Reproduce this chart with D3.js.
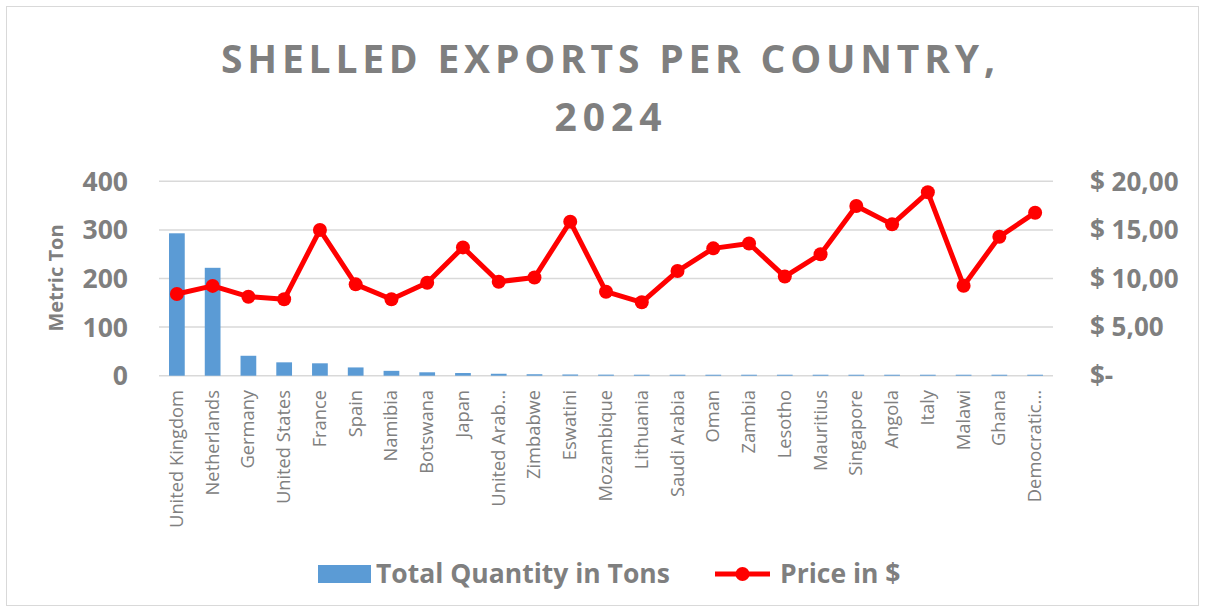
<!DOCTYPE html>
<html lang="en">
<head>
  <meta charset="UTF-8">
  <title>Shelled exports per country, 2024</title>
  <script src="https://cdn.jsdelivr.net/npm/d3@7.9.0/dist/d3.min.js"></script>
  <style>
    html, body {
      margin: 0;
      padding: 0;
      background: #fff;
    }
    svg text {
      font-family: "Open Sans", Lato, sans-serif;
    }
  </style>
</head>
<body>
  <svg id="chart" width="1205" height="611"></svg>

  <script>
    // --- Data ---
    const countries = [
      "United Kingdom", "Netherlands", "Germany", "United States", "France",
      "Spain", "Namibia", "Botswana", "Japan", "United Arab...",
      "Zimbabwe", "Eswatini", "Mozambique", "Lithuania", "Saudi Arabia",
      "Oman", "Zambia", "Lesotho", "Mauritius", "Singapore",
      "Angola", "Italy", "Malawi", "Ghana", "Democratic..."
    ];
    const quantityTons = [
      293, 222, 41, 27.5, 25.5, 17, 10, 7, 5.5, 4,
      3, 2.5, 2.2, 2, 2, 2, 2, 2, 2, 2,
      2, 2, 2, 2, 2
    ];
    const priceUsd = [
      8.4, 9.24, 8.13, 7.86, 15.0, 9.4, 7.86, 9.57, 13.2, 9.67,
      10.1, 15.85, 8.64, 7.55, 10.77, 13.1, 13.6, 10.2, 12.5, 17.46,
      15.57, 18.87, 9.26, 14.3, 16.77
    ];
    const leftTicks = [0, 100, 200, 300, 400];
    const rightTicks = [0, 5, 10, 15, 20];
    const titleLines = ["SHELLED EXPORTS PER COUNTRY,", "2024"];

    const grey = "#7f7f7f";
    const gridColor = "#d9d9d9";
    const barColor = "#5b9bd5";
    const lineColor = "#ff0000";

    const svg = d3.select("#chart");

    // outer chart border
    svg.append("rect")
      .attr("x", 6.5).attr("y", 6.5)
      .attr("width", 1192).attr("height", 599)
      .attr("fill", "none")
      .attr("stroke", gridColor)
      .attr("stroke-width", 1);

    // --- Scales ---
    const plot = { left: 159, right: 1053, top: 181.3, bottom: 375.7 };

    const x = d3.scaleBand()
      .domain(countries)
      .range([plot.left, plot.right])
      .padding(0);

    const yLeft = d3.scaleLinear().domain([0, 400]).range([plot.bottom, plot.top]);
    const yRight = d3.scaleLinear().domain([0, 20]).range([plot.bottom, plot.top]);

    // --- Gridlines (incl. the zero line) ---
    svg.append("g")
      .selectAll("line")
      .data(leftTicks)
      .join("line")
      .attr("x1", plot.left).attr("x2", plot.right)
      .attr("y1", d => yLeft(d)).attr("y2", d => yLeft(d))
      .attr("stroke", gridColor)
      .attr("stroke-width", 1.5);

    // --- Bars ---
    const barW = x.bandwidth() * 0.44;
    svg.append("g")
      .selectAll("rect")
      .data(quantityTons)
      .join("rect")
      .attr("x", (d, i) => x(countries[i]) + (x.bandwidth() - barW) / 2)
      .attr("y", d => yLeft(d))
      .attr("width", barW)
      .attr("height", d => yLeft(0) - yLeft(d))
      .attr("fill", barColor);

    // --- Left axis labels ---
    svg.append("g")
      .selectAll("text")
      .data(leftTicks)
      .join("text")
      .attr("x", 128)
      .attr("y", d => yLeft(d))
      .attr("dy", "0.36em")
      .attr("text-anchor", "end")
      .attr("font-size", 26.5)
      .attr("font-weight", "bold")
      .attr("fill", grey)
      .text(d => d);

    svg.append("text")
      .attr("transform", "translate(63,278) rotate(-90)")
      .attr("text-anchor", "middle")
      .attr("font-size", 20)
      .attr("font-weight", "bold")
      .attr("fill", grey)
      .text("Metric Ton");

    // --- Right axis labels ---
    const fmtPrice = d => d === 0 ? "$-" : "$ " + d3.format(".2f")(d).replace(".", ",");
    svg.append("g")
      .selectAll("text")
      .data(rightTicks)
      .join("text")
      .attr("x", 1090)
      .attr("y", d => yRight(d))
      .attr("dy", "0.36em")
      .attr("font-size", 26)
      .attr("font-weight", "bold")
      .attr("fill", grey)
      .text(fmtPrice);

    // --- Category labels ---
    svg.append("g")
      .selectAll("text")
      .data(countries)
      .join("text")
      .attr("transform", d => `translate(${x(d) + x.bandwidth() / 2 + 6},390) rotate(-90)`)
      .attr("text-anchor", "end")
      .attr("font-size", 18.3)
      .attr("fill", "#808080")
      .text(d => d);

    // --- Price line ---
    const line = d3.line()
      .x((d, i) => x(countries[i]) + x.bandwidth() / 2)
      .y(d => yRight(d));

    svg.append("path")
      .datum(priceUsd)
      .attr("d", line)
      .attr("fill", "none")
      .attr("stroke", lineColor)
      .attr("stroke-width", 5)
      .attr("stroke-linejoin", "round");

    svg.append("g")
      .selectAll("circle")
      .data(priceUsd)
      .join("circle")
      .attr("cx", (d, i) => x(countries[i]) + x.bandwidth() / 2)
      .attr("cy", d => yRight(d))
      .attr("r", 7)
      .attr("fill", lineColor);

    // --- Title ---
    const titleWidths = [774, 107];
    svg.append("g")
      .selectAll("text")
      .data(titleLines)
      .join("text")
      .attr("x", 608)
      .attr("y", (d, i) => 73 + i * 58)
      .attr("text-anchor", "middle")
      .attr("font-size", 39)
      .attr("font-weight", "bold")
      .attr("textLength", (d, i) => titleWidths[i])
      .attr("lengthAdjust", "spacing")
      .attr("fill", grey)
      .text(d => d);

    // --- Legend ---
    const legend = svg.append("g");
    legend.append("rect")
      .attr("x", 318).attr("y", 565)
      .attr("width", 53).attr("height", 18)
      .attr("fill", barColor);
    legend.append("text")
      .attr("x", 376).attr("y", 583)
      .attr("font-size", 26.5)
      .attr("font-weight", "bold")
      .attr("fill", grey)
      .text("Total Quantity in Tons");
    legend.append("line")
      .attr("x1", 715).attr("x2", 770)
      .attr("y1", 574).attr("y2", 574)
      .attr("stroke", lineColor)
      .attr("stroke-width", 5);
    legend.append("circle")
      .attr("cx", 742.5).attr("cy", 574)
      .attr("r", 7)
      .attr("fill", lineColor);
    legend.append("text")
      .attr("x", 780).attr("y", 583)
      .attr("font-size", 26.5)
      .attr("font-weight", "bold")
      .attr("fill", grey)
      .text("Price in $");
  </script>
</body>
</html>
